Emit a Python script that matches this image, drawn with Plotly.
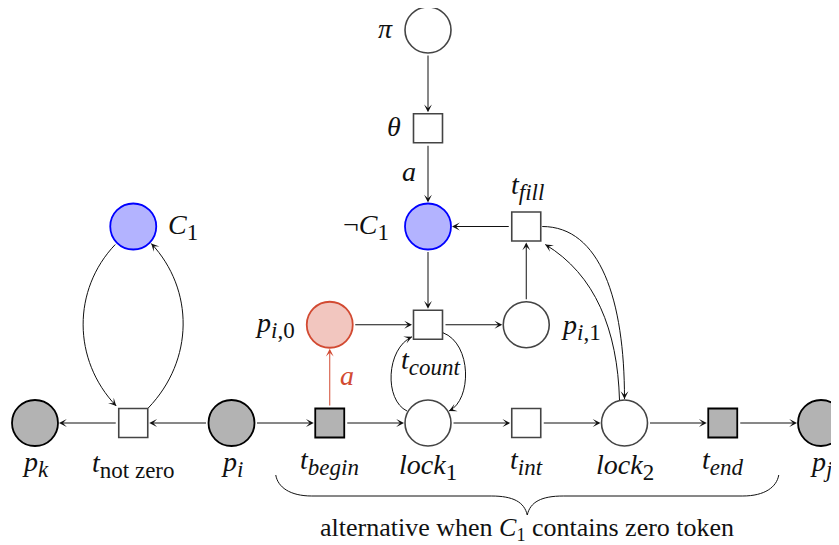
import plotly.graph_objects as go
import numpy as np

# ---------------- data (grid layout of the Petri net) ----------------
place_names = ["pi", "notC1", "C1", "pi0", "pi1", "pk", "p_i", "lock1", "lock2", "pj"]
place_cols = [4, 4, 1, 3, 5, 0, 2, 4, 6, 8]
place_rows = [0, 2, 2, 3, 3, 4, 4, 4, 4, 4]
place_kinds = ["white", "blue", "blue", "red", "white", "gray", "gray", "white", "white", "gray"]

trans_names = ["theta", "tfill", "tcount", "tnz", "tbegin", "tint", "tend"]
trans_cols = [4, 5, 4, 1, 3, 5, 7]
trans_rows = [1, 2, 3, 4, 4, 4, 4]
trans_kinds = ["white", "white", "white", "white", "gray", "white", "gray"]

SUBPX = 23


def sub(s):
    return f"<sub><span style='font-size:{SUBPX}px'>{s}</span></sub>"


node_labels = {
    "pi": "<i>π</i>", "theta": "<i>θ</i>", "notC1": "¬<i>C</i>" + sub("1"), "C1": "<i>C</i>" + sub("1"),
    "tfill": "<i>t</i>" + sub("<i>fill</i>"), "pi0": "<i>p</i>" + sub("<i>i</i>,0"),
    "pi1": "<i>p</i>" + sub("<i>i</i>,1"), "tcount": "<i>t</i>" + sub("<i>count</i>"),
    "pk": "<i>p</i>" + sub("<i>k</i>"), "tnz": "<i>t</i>" + sub("not zero"),
    "p_i": "<i>p</i>" + sub("<i>i</i>"), "tbegin": "<i>t</i>" + sub("<i>begin</i>"),
    "lock1": "<i>lock</i>" + sub("1"), "tint": "<i>t</i>" + sub("<i>int</i>"),
    "lock2": "<i>lock</i>" + sub("2"), "tend": "<i>t</i>" + sub("<i>end</i>"),
    "pj": "<i>p</i>" + sub("<i>j</i>"),
}

edges_src = ["pi", "theta", "tfill", "pi1", "notC1", "pi0", "tcount", "p_i", "tnz",
             "p_i", "tbegin", "tbegin", "lock1", "tint", "lock2", "tend"]
edges_dst = ["theta", "notC1", "notC1", "tfill", "tcount", "tcount", "pi1", "tnz", "pk",
             "tbegin", "pi0", "lock1", "tint", "lock2", "tend", "pj"]
edges_weight = ["", "a", "", "", "", "", "", "", "", "", "a", "", "", "", "", ""]

curved_src = ["C1", "tnz", "tcount", "lock1", "tfill", "lock2"]
curved_dst = ["tnz", "C1", "lock1", "tcount", "lock2", "tfill"]

brace_from, brace_to = "tbegin", "tend"
brace_text = "alternative when <i>C</i><sub>1</sub> contains zero token"

# ---------------- styles ----------------
S = 98.25  # pixels per grid unit
OX, OY = 35, 30  # pixel position of grid origin in the picture
PAGE = 8         # default page margin of the html body
W, H = 839 - PAGE, 545 - PAGE
FONT = "Liberation Serif"
FS = 28
INK = "#111111"
fills = {"white": "#ffffff", "blue": "#b3b3ff", "red": "#f2c6bf", "gray": "#b3b3b3"}
borders = {"white": "#444444", "blue": "#0000ff", "red": "#d24a32", "gray": "#000000"}
PLACE_R, TRANS_R = 24, 16  # pixel stand-offs

pos = {}
kind = {}
for n, c, r, k in zip(place_names, place_cols, place_rows, place_kinds):
    pos[n] = (c, r); kind[n] = ("place", k)
for n, c, r, k in zip(trans_names, trans_cols, trans_rows, trans_kinds):
    pos[n] = (c, r); kind[n] = ("trans", k)


def off(name, dx, dy):
    c, r = pos[name]
    return (c + dx / S, r + dy / S)


fig = go.Figure()

# ---------------- curved arcs (pixel offsets relative to nodes) ----------------
curve_geom = {
    ("C1", "tnz"): [(-18, 18), (-61, 63), (-61, -63), (-17, -17)],
    ("tnz", "C1"): [(15, -15), (61, -63), (61, 63), (18, 17)],
    ("tcount", "lock1"): [(15, 8), (44, 19), (44, -23), (21, -12)],
    ("lock1", "tcount"): [(-21, -12), (-44, -23), (-42, 24), (-16, 12)],
    ("tfill", "lock2"): [(16, 0), (74, 0), (0, -123), (0, -24)],
    ("lock2", "tfill"): [(-5, -23), (-7, -93), (69, 48), (19, 18)],
}
for s, d in zip(curved_src, curved_dst):
    g = curve_geom[(s, d)]
    p0 = off(s, *g[0]); p1 = off(s, *g[1]); p2 = off(d, *g[2]); p3 = off(d, *g[3])
    fig.add_shape(type="path", xref="x", yref="y",
                  path=f"M {p0[0]},{p0[1]} C {p1[0]},{p1[1]} {p2[0]},{p2[1]} {p3[0]},{p3[1]}",
                  line=dict(color=INK, width=1))
    v = np.array(p3) - np.array(p2)
    v = v / np.linalg.norm(v)
    fig.add_annotation(x=p3[0], y=p3[1], ax=p3[0] - v[0] * 0.06, ay=p3[1] - v[1] * 0.06,
                       xref="x", yref="y", axref="x", ayref="y", text="", showarrow=True,
                       arrowhead=3, arrowsize=1.3, arrowwidth=1, arrowcolor=INK)

# ---------------- straight arcs ----------------
for s, d, w in zip(edges_src, edges_dst, edges_weight):
    col = "#d24a32" if (s, d) == ("tbegin", "pi0") else INK
    sx, sy = pos[s]; tx, ty = pos[d]
    fig.add_annotation(x=tx, y=ty, ax=sx, ay=sy, xref="x", yref="y", axref="x", ayref="y",
                       text="", showarrow=True, arrowhead=3, arrowsize=1.3, arrowwidth=1,
                       arrowcolor=col,
                       standoff=PLACE_R if kind[d][0] == "place" else TRANS_R,
                       startstandoff=PLACE_R if kind[s][0] == "place" else TRANS_R)
    if w:
        mx, my = (sx + tx) / 2, (sy + ty) / 2
        if s == "theta":
            fig.add_annotation(x=mx, y=my, xshift=-19, yshift=6, text="<i>a</i>", showarrow=False,
                               font=dict(family=FONT, size=FS, color=INK))
        else:
            fig.add_annotation(x=mx, y=my, xshift=17, yshift=-2, text="<i>a</i>", showarrow=False,
                               font=dict(family=FONT, size=FS, color=col))

# ---------------- nodes ----------------
for names, cols, rows, kinds, sym, size in [
    (place_names, place_cols, place_rows, place_kinds, "circle", 46),
    (trans_names, trans_cols, trans_rows, trans_kinds, "square", 29),
]:
    fig.add_trace(go.Scatter(
        x=cols, y=rows, mode="markers", hoverinfo="text", text=names, cliponaxis=False,
        marker=dict(symbol=sym, size=size, color=[fills[k] for k in kinds],
                    line=dict(color=[borders[k] for k in kinds],
                              width=[1.8 if k in ("gray", "blue", "red") else 1.6 for k in kinds])),
        showlegend=False))

# ---------------- node labels ----------------
label_shift = {
    "pi": (-43, 2), "theta": (-34, 2), "notC1": (-62, 0), "C1": (50, 0),
    "tfill": (1, 40), "pi0": (-55, 0), "pi1": (55, -2), "tcount": (2, -37),
    "pk": (0, -41), "tnz": (0, -42), "p_i": (0, -41), "tbegin": (0, -39),
    "lock1": (0, -44), "tint": (0, -39), "lock2": (0, -44), "tend": (0, -39), "pj": (0, -41),
}
for n, (dx, dy) in label_shift.items():
    c, r = pos[n]
    fig.add_annotation(x=c, y=r, xshift=dx, yshift=dy, text=node_labels[n], showarrow=False,
                       font=dict(family=FONT, size=FS, color=INK))

# ---------------- brace ----------------
L = off(brace_from, -54, 52); R = off(brace_to, 56, 52)
mid_c = (L[0] + R[0]) / 2
u = 1 / S
yb = L[1] + 21 * u; yt = L[1] + 40 * u
path = (f"M {L[0]},{L[1]} C {L[0]+2*u},{L[1]+12*u} {L[0]+14*u},{yb} {L[0]+36*u},{yb} "
        f"L {mid_c-36*u},{yb} C {mid_c-14*u},{yb} {mid_c-3*u},{yb+6*u} {mid_c},{yt} "
        f"C {mid_c+3*u},{yb+6*u} {mid_c+14*u},{yb} {mid_c+36*u},{yb} "
        f"L {R[0]-36*u},{yb} C {R[0]-14*u},{yb} {R[0]-2*u},{R[1]+12*u} {R[0]},{R[1]}")
fig.add_shape(type="path", xref="x", yref="y", path=path, line=dict(color=INK, width=1))
fig.add_annotation(x=mid_c, y=yt, yshift=-14, text=brace_text, showarrow=False,
                   font=dict(family=FONT, size=26, color=INK))

# ---------------- layout ----------------
fig.update_layout(
    width=W, height=H, margin=dict(l=0, r=0, t=0, b=0),
    paper_bgcolor="white", plot_bgcolor="white", showlegend=False,
    xaxis=dict(range=[(PAGE - OX) / S, (839 - OX) / S], visible=False, fixedrange=True),
    yaxis=dict(range=[(545 - OY) / S, (PAGE - OY) / S], visible=False, fixedrange=True),
)
fig.write_html("out.html")
